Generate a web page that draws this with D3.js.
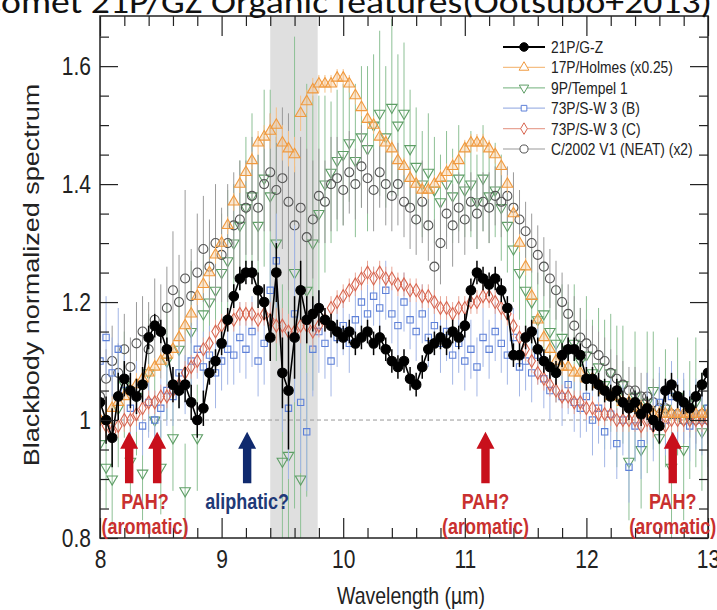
<!DOCTYPE html>
<html><head><meta charset="utf-8">
<script src="https://cdn.jsdelivr.net/npm/d3@7"></script>
<style>body{margin:0;background:#fff}svg{display:block}</style>
</head><body><svg id="c" width="717" height="610"></svg>
<script>
// ---------- DATA ----------
const titleText = "Comet 21P/GZ Organic features(Ootsubo+2013)";
const xLabel = "Wavelength (\u00b5m)";
const yLabel = "Blackbody normalized spectrum";
const xMajorTicks = [8, 9, 10, 11, 12, 13];
const yMajorTicks = [0.8, 1.0, 1.2, 1.4, 1.6];
const yTickLabels = ["0.8", "1", "1.2", "1.4", "1.6"];
const shadeBand = [9.4, 9.79];
const seriesNames = ["21P/G-Z", "17P/Holmes (x0.25)", "9P/Tempel 1", "73P/S-W 3 (B)", "73P/S-W 3 (C)", "C/2002 V1 (NEAT) (x2)"];

const wavelengths = [
 8.00,8.05,8.10,8.15,8.20,8.25,8.30,8.35,8.40,8.45,
 8.50,8.55,8.60,8.65,8.70,8.75,8.80,8.85,8.90,8.95,
 9.00,9.05,9.10,9.15,9.20,9.25,9.30,9.35,9.40,9.45,
 9.50,9.55,9.60,9.65,9.70,9.75,9.80,9.85,9.90,9.95,
 10.00,10.05,10.10,10.15,10.20,10.25,10.30,10.35,10.40,10.45,
 10.50,10.55,10.60,10.65,10.70,10.75,10.80,10.85,10.90,10.95,
 11.00,11.05,11.10,11.15,11.20,11.25,11.30,11.35,11.40,11.45,
 11.50,11.55,11.60,11.65,11.70,11.75,11.80,11.85,11.90,11.95,
 12.00,12.05,12.10,12.15,12.20,12.25,12.30,12.35,12.40,12.45,
 12.50,12.55,12.60,12.65,12.70,12.75,12.80,12.85,12.90,12.95,
 13.00];

const gz21P = [
 1.03,1.00,0.97,1.04,1.07,1.05,1.04,1.06,1.14,1.16,
 1.15,1.12,1.06,1.05,1.06,1.03,1.00,1.02,1.08,1.10,
 1.13,1.17,1.21,1.24,1.25,1.25,1.22,1.20,1.14,1.25,
 1.08,1.05,1.14,1.22,1.17,1.18,1.19,1.17,1.16,1.15,
 1.14,1.15,1.13,1.14,1.15,1.13,1.14,1.12,1.10,1.09,
 1.10,1.07,1.06,1.09,1.12,1.13,1.14,1.13,1.15,1.14,
 1.16,1.22,1.25,1.24,1.23,1.24,1.22,1.19,1.11,1.11,
 1.14,1.15,1.12,1.10,1.09,1.08,1.11,1.12,1.12,1.11,
 1.07,1.07,1.06,1.05,1.04,1.05,1.03,1.02,1.03,1.01,
 1.02,1.00,0.99,1.05,1.06,1.04,1.03,1.02,1.04,1.06,
 1.08];
const gz21PErr = [
 .04,.04,.05,.04,.03,.03,.03,.03,.02,.02,
 .02,.02,.03,.03,.03,.03,.03,.03,.02,.02,
 .02,.02,.02,.02,.02,.02,.03,.03,.04,.05,
 .06,.10,.07,.05,.04,.03,.03,.02,.02,.02,
 .02,.02,.02,.02,.02,.02,.02,.02,.02,.02,
 .02,.02,.02,.02,.02,.02,.02,.02,.02,.02,
 .02,.02,.02,.02,.02,.02,.02,.02,.02,.02,
 .02,.02,.02,.02,.02,.02,.02,.02,.02,.02,
 .02,.02,.02,.02,.02,.02,.02,.02,.02,.02,
 .02,.02,.03,.02,.02,.02,.02,.02,.02,.02,
 .02];

const holmes17P = [
 1.00,1.00,1.02,1.03,1.04,1.05,1.06,1.07,1.08,1.09,
 1.10,1.11,1.12,1.14,1.16,1.18,1.21,1.23,1.25,1.28,
 1.30,1.33,1.37,1.40,1.42,1.44,1.47,1.48,1.49,1.50,
 1.47,1.46,1.45,1.52,1.54,1.56,1.57,1.57,1.57,1.58,
 1.58,1.57,1.55,1.53,1.51,1.50,1.48,1.47,1.46,1.44,
 1.43,1.41,1.40,1.39,1.39,1.40,1.41,1.42,1.43,1.44,
 1.46,1.47,1.47,1.47,1.46,1.45,1.43,1.40,1.35,1.30,
 1.26,1.21,1.17,1.14,1.12,1.10,1.09,1.09,1.08,1.08,
 1.07,1.07,1.06,1.05,1.04,1.04,1.03,1.03,1.02,1.02,
 1.02,1.01,1.01,1.01,1.01,1.01,1.01,1.01,1.01,1.01,
 1.01];
const holmes17PErr = [
 .02,.02,.02,.02,.02,.02,.02,.02,.015,.015,
 .015,.015,.015,.015,.015,.015,.015,.015,.015,.015,
 .015,.015,.015,.015,.015,.015,.02,.02,.03,.03,
 .03,.03,.03,.03,.02,.02,.015,.015,.015,.015,
 .015,.015,.015,.015,.015,.015,.015,.015,.015,.015,
 .015,.015,.015,.015,.015,.015,.015,.015,.015,.015,
 .015,.015,.015,.015,.015,.015,.015,.015,.015,.015,
 .015,.015,.015,.015,.015,.015,.015,.015,.015,.015,
 .015,.015,.015,.015,.015,.015,.015,.015,.015,.015,
 .015,.015,.015,.015,.015,.015,.015,.015,.015,.015,
 .015];

const tempel9P = [
 0.96,0.92,0.90,1.02,1.06,0.93,1.04,0.91,1.08,1.00,
 0.92,1.10,0.97,1.12,0.88,1.15,0.97,1.18,1.20,1.22,
 1.25,1.27,1.30,1.33,1.36,1.38,1.33,1.41,1.38,1.30,
 0.93,0.94,1.25,0.90,1.22,1.30,1.35,1.40,1.42,1.44,
 1.45,1.47,1.44,1.48,1.46,1.50,1.52,1.48,1.53,1.50,
 1.52,1.46,1.43,1.40,1.42,1.39,1.37,1.40,1.38,1.41,
 1.39,1.40,1.37,1.41,1.38,1.39,1.36,1.33,1.29,1.25,
 1.22,1.20,1.17,1.18,1.15,1.13,1.14,1.12,1.13,1.10,
 1.11,1.08,1.09,1.06,1.08,1.04,1.06,0.93,1.04,0.95,
 1.03,1.05,0.97,1.02,0.92,1.04,0.95,1.00,1.03,0.98,
 1.02];
const tempel9PErr = [
 .08,.07,.08,.10,.09,.07,.10,.08,.10,.09,
 .08,.10,.09,.10,.08,.12,.09,.10,.10,.10,
 .10,.12,.10,.11,.12,.14,.12,.15,.18,.20,
 .30,.35,.40,.30,.35,.25,.20,.15,.12,.12,
 .12,.10,.13,.12,.14,.12,.14,.12,.15,.12,
 .12,.10,.10,.09,.10,.09,.08,.09,.08,.09,
 .08,.09,.08,.09,.08,.08,.09,.08,.09,.08,
 .08,.09,.08,.09,.08,.10,.09,.08,.10,.09,
 .10,.09,.10,.11,.10,.12,.10,.10,.11,.10,
 .12,.10,.11,.10,.12,.10,.12,.10,.11,.10,
 .10];

const sw73PB = [
 1.10,1.14,1.08,1.12,1.05,1.02,1.04,0.99,1.03,1.00,
 1.02,1.05,1.04,1.08,1.06,1.10,1.12,1.09,1.11,1.08,
 1.10,1.12,1.11,1.14,1.12,1.15,1.10,1.13,1.22,1.27,
 1.08,1.02,1.18,1.03,0.98,1.12,1.15,1.13,1.10,1.14,
 1.16,1.13,1.17,1.20,1.18,1.21,1.19,1.22,1.18,1.16,
 1.20,1.17,1.15,1.18,1.14,1.16,1.13,1.15,1.11,1.13,
 1.10,1.12,1.09,1.14,1.12,1.15,1.13,1.11,1.14,1.09,
 1.10,1.08,1.11,1.07,1.05,1.08,1.04,1.06,1.03,1.02,
 1.04,1.00,1.02,0.98,1.01,0.96,1.00,0.92,0.99,0.96,
 1.02,0.99,1.03,1.00,1.04,1.01,1.02,0.99,1.01,1.00,
 1.02];
const sw73PBErr = [
 .06,.07,.06,.07,.06,.05,.06,.05,.06,.05,
 .05,.06,.05,.06,.05,.06,.05,.06,.05,.06,
 .05,.06,.05,.06,.05,.06,.06,.07,.08,.08,
 .10,.12,.15,.12,.10,.08,.07,.06,.06,.05,
 .05,.05,.05,.05,.05,.05,.05,.05,.05,.05,
 .05,.05,.05,.05,.05,.05,.05,.05,.05,.05,
 .05,.05,.05,.05,.05,.05,.05,.05,.05,.05,
 .05,.05,.05,.05,.05,.05,.05,.05,.05,.05,
 .06,.06,.06,.06,.06,.06,.06,.06,.06,.06,
 .06,.06,.06,.06,.06,.06,.06,.06,.06,.06,
 .06];

const sw73PC = [
 1.00,0.99,0.98,0.99,1.00,1.00,1.01,1.02,1.03,1.03,
 1.04,1.04,1.05,1.06,1.08,1.09,1.10,1.12,1.13,1.15,
 1.16,1.17,1.17,1.18,1.18,1.18,1.17,1.18,1.17,1.16,
 1.16,1.15,1.15,1.16,1.16,1.15,1.16,1.17,1.19,1.20,
 1.21,1.22,1.23,1.24,1.25,1.24,1.25,1.24,1.24,1.23,
 1.23,1.22,1.22,1.21,1.21,1.20,1.19,1.19,1.18,1.19,
 1.19,1.20,1.20,1.21,1.21,1.20,1.19,1.18,1.16,1.14,
 1.12,1.10,1.08,1.07,1.06,1.05,1.04,1.04,1.03,1.03,
 1.02,1.02,1.01,1.01,1.01,1.00,1.00,1.00,1.00,0.99,
 1.00,0.99,1.00,0.99,1.00,1.00,1.00,1.00,1.00,1.00,
 1.00];
const sw73PCErr = [
 .02,.02,.02,.02,.02,.02,.02,.02,.02,.02,
 .02,.02,.02,.02,.02,.02,.02,.02,.02,.02,
 .02,.02,.02,.02,.02,.02,.02,.02,.03,.03,
 .03,.03,.03,.03,.03,.03,.02,.02,.02,.02,
 .02,.02,.02,.02,.02,.02,.02,.02,.02,.02,
 .02,.02,.02,.02,.02,.02,.02,.02,.02,.02,
 .02,.02,.02,.02,.02,.02,.02,.02,.02,.02,
 .02,.02,.02,.02,.02,.02,.02,.02,.02,.02,
 .02,.02,.02,.02,.02,.02,.02,.02,.02,.02,
 .02,.02,.02,.02,.02,.02,.02,.02,.02,.02,
 .02];

const neatC2002 = [
 1.04,1.07,1.10,1.08,1.12,1.09,1.13,1.15,1.12,1.17,
 1.15,1.19,1.22,1.20,1.24,1.21,1.25,1.29,1.26,1.30,
 1.28,1.30,1.33,1.34,1.36,1.38,1.36,1.40,1.42,1.39,
 1.41,1.37,1.33,1.36,1.31,1.34,1.38,1.37,1.40,1.41,
 1.39,1.42,1.40,1.43,1.41,1.39,1.42,1.40,1.38,1.40,
 1.37,1.36,1.34,1.37,1.33,1.26,1.30,1.35,1.33,1.36,
 1.34,1.37,1.35,1.37,1.36,1.38,1.37,1.38,1.36,1.34,
 1.32,1.30,1.28,1.26,1.24,1.22,1.20,1.18,1.16,1.14,
 1.13,1.12,1.11,1.10,1.08,1.07,1.06,1.05,1.05,1.04,
 1.04,1.03,1.02,1.02,1.01,1.01,1.00,1.01,1.00,1.01,
 1.00];
const neatC2002Err = [
 .05,.05,.06,.05,.06,.05,.07,.06,.08,.07,
 .08,.07,.10,.08,.15,.08,.10,.09,.08,.10,
 .08,.10,.09,.10,.08,.10,.09,.08,.10,.09,
 .12,.15,.10,.12,.15,.10,.08,.07,.08,.07,
 .06,.07,.06,.07,.06,.07,.06,.07,.06,.07,
 .06,.07,.06,.07,.06,.08,.07,.06,.07,.06,
 .06,.05,.06,.05,.06,.05,.06,.05,.06,.05,
 .05,.05,.05,.05,.05,.05,.05,.05,.05,.05,
 .04,.04,.04,.04,.04,.04,.04,.04,.04,.04,
 .04,.04,.04,.04,.04,.04,.04,.04,.04,.04,
 .04];

const arrowWavelengths = [8.24, 8.47, 9.21, 11.17, 12.71];
const arrowKinds = ["PAH", "PAH", "aliphatic", "PAH", "PAH"];
const arrowTipValue = 0.98, arrowBaseValue = 0.893;
const annotationTexts = [
  {w: 8.37, lines: ["PAH?", "(aromatic)"], kind: "PAH"},
  {w: 9.21, lines: ["aliphatic?"], kind: "aliphatic"},
  {w: 11.17, lines: ["PAH?", "(aromatic)"], kind: "PAH"},
  {w: 12.71, lines: ["PAH?", "(aromatic)"], kind: "PAH"}
];

// ---------- DRAW ----------
const svg = d3.select("#c");
const FONT = "'Liberation Sans', Arial, Helvetica, sans-serif";
const L = 100, R = 708, T = 16, B = 538;
const x = d3.scaleLinear().domain([8, 13]).range([L, R]);
const y = d3.scaleLinear().domain([0.8, 1.685]).range([B, T]);
const SY = 1.2; // vertical stretch of reference text

svg.append("rect").attr("width", 717).attr("height", 610).attr("fill", "#fff");

svg.append("defs").append("clipPath").attr("id", "plotclip")
  .append("rect").attr("x", L).attr("y", T).attr("width", R - L).attr("height", B - T);

// shaded band
svg.append("rect").attr("x", x(shadeBand[0])).attr("y", T)
  .attr("width", x(shadeBand[1]) - x(shadeBand[0])).attr("height", B - T)
  .attr("fill", "#dfdfdf");

// dashed line at 1
svg.append("line").attr("x1", L).attr("x2", R).attr("y1", y(1)).attr("y2", y(1))
  .attr("stroke", "#999").attr("stroke-width", 1).attr("stroke-dasharray", "4,3");

const plot = svg.append("g").attr("clip-path", "url(#plotclip)");

const triDown = {draw(ctx, size) { const s = Math.sqrt(size / (Math.sqrt(3)/4)); const h = s*Math.sqrt(3)/2;
  ctx.moveTo(-s/2, -h/3); ctx.lineTo(s/2, -h/3); ctx.lineTo(0, 2*h/3); ctx.closePath(); }};

const series = [
  {name: seriesNames[2], vals: tempel9P, err: tempel9PErr, sym: triDown, size: 48, stroke: "#5e9e66", errc: "#8dc095", fill: "none"},
  {name: seriesNames[5], vals: neatC2002, err: neatC2002Err, sym: d3.symbolCircle, size: 64, stroke: "#555", errc: "#9a9a9a", fill: "none"},
  {name: seriesNames[3], vals: sw73PB, err: sw73PBErr, sym: d3.symbolSquare, size: 40, stroke: "#5d80d8", errc: "#a3b6e6", fill: "none"},
  {name: seriesNames[4], vals: sw73PC, err: sw73PCErr, sym: d3.symbolDiamond, size: 48, stroke: "#d8654f", errc: "#e8a596", fill: "none"},
  {name: seriesNames[1], vals: holmes17P, err: holmes17PErr, sym: d3.symbolTriangle, size: 52, stroke: "#f0993e", errc: "#f5bf85", fill: "rgba(247,190,130,0.35)"},
  {name: seriesNames[0], vals: gz21P, err: gz21PErr, sym: d3.symbolCircle, size: 72, stroke: "#000", errc: "#000", fill: "#000"}
];

series.forEach(s => {
  const pts = wavelengths.map((w, i) => ({w, v: s.vals[i], e: s.err[i]})).filter(d => d.v != null);
  const g = plot.append("g");
  const isBlack = s.fill === "#000";
  g.selectAll("line").data(pts).join("line")
    .attr("x1", d => x(d.w)).attr("x2", d => x(d.w))
    .attr("y1", d => y(d.v - d.e)).attr("y2", d => y(d.v + d.e))
    .attr("stroke", s.errc).attr("stroke-width", isBlack ? 1.5 : 1);
  if (isBlack) {
    g.append("path").datum(pts)
      .attr("d", d3.line().x(d => x(d.w)).y(d => y(d.v)))
      .attr("fill", "none").attr("stroke", "#000").attr("stroke-width", 1.6);
  }
  g.selectAll("path.m").data(pts).join("path").attr("class", "m")
    .attr("transform", d => `translate(${x(d.w)},${y(d.v)})`)
    .attr("d", d3.symbol(s.sym, s.size))
    .attr("fill", s.fill).attr("stroke", s.stroke).attr("stroke-width", 1.1);
});

// axes
function styleAxis(g) { g.select(".domain").remove(); g.selectAll("line").attr("stroke", "#222").attr("stroke-width", 1.2); }
const xMinorVals = d3.range(0, 26).map(i => 8 + i * 0.2).filter(v => Math.abs(v - Math.round(v)) > 1e-6);
const yMinorVals = d3.range(0, 18).map(i => 0.8 + i * 0.05).filter(v => !yMajorTicks.some(t => Math.abs(t - v) < 1e-6));

svg.append("g").attr("transform", `translate(0,${B})`)
  .call(d3.axisBottom(x).tickValues(xMinorVals).tickSize(-10).tickFormat("")).call(styleAxis);
svg.append("g").attr("transform", `translate(0,${T})`)
  .call(d3.axisTop(x).tickValues(xMinorVals).tickSize(-10).tickFormat("")).call(styleAxis);
svg.append("g").attr("transform", `translate(0,${T})`)
  .call(d3.axisTop(x).tickValues(xMajorTicks).tickSize(-20).tickFormat("")).call(styleAxis);
const xb = svg.append("g").attr("transform", `translate(0,${B})`)
  .call(d3.axisBottom(x).tickValues(xMajorTicks).tickSize(-20).tickFormat(d3.format("d"))).call(styleAxis);
xb.selectAll("text").attr("y", 0).attr("dy", "0.35em")
  .attr("transform", `translate(0,21) scale(1,${SY})`)
  .attr("font-family", FONT).attr("font-size", 21).attr("fill", "#222");

svg.append("g").attr("transform", `translate(${L},0)`)
  .call(d3.axisLeft(y).tickValues(yMinorVals).tickSize(-9).tickFormat("")).call(styleAxis);
svg.append("g").attr("transform", `translate(${R},0)`)
  .call(d3.axisRight(y).tickValues(yMinorVals).tickSize(-9).tickFormat("")).call(styleAxis);
svg.append("g").attr("transform", `translate(${R},0)`)
  .call(d3.axisRight(y).tickValues(yMajorTicks).tickSize(-18).tickFormat("")).call(styleAxis);
const yl = svg.append("g").attr("transform", `translate(${L},0)`)
  .call(d3.axisLeft(y).tickValues(yMajorTicks).tickSize(-18).tickFormat((d, i) => yTickLabels[i])).call(styleAxis);
yl.selectAll("text").attr("x", 0).attr("dy", "0.35em")
  .attr("transform", `translate(-9,0) scale(1,${SY})`)
  .attr("font-family", FONT).attr("font-size", 21).attr("fill", "#222");

// frame
svg.append("rect").attr("x", L).attr("y", T).attr("width", R - L).attr("height", B - T)
  .attr("fill", "none").attr("stroke", "#222").attr("stroke-width", 1.5);

// title (cut at top, drawn over the frame)
svg.append("text").attr("x", -19).attr("y", 13)
  .attr("font-family", "Carlito, 'Open Sans', sans-serif").attr("font-size", 32)
  .attr("textLength", 731).attr("lengthAdjust", "spacingAndGlyphs")
  .attr("fill", "#111").text(titleText);

// axis titles
svg.append("text").attr("transform", `translate(411,604) scale(1,${SY})`)
  .attr("text-anchor", "middle").attr("font-family", FONT).attr("font-size", 19.5)
  .attr("fill", "#222").text(xLabel);
svg.append("text").attr("transform", `translate(39,275) scale(1,${SY}) rotate(-90)`)
  .attr("text-anchor", "middle").attr("font-family", FONT).attr("font-size", 22.5)
  .attr("fill", "#222").text(yLabel);

// annotation arrows
const colorOf = k => k === "PAH" ? "#c8101c" : "#102a6e";
const textColorOf = k => k === "PAH" ? "#c9302f" : "#1f3a78";
arrowWavelengths.forEach((w, i) => {
  const cx = x(w), yt = y(arrowTipValue), yb = y(arrowBaseValue);
  const hw = 9, sw = 4.2, hh = 17;
  const p = d3.path();
  p.moveTo(cx, yt); p.lineTo(cx + hw, yt + hh); p.lineTo(cx + sw, yt + hh); p.lineTo(cx + sw, yb);
  p.lineTo(cx - sw, yb); p.lineTo(cx - sw, yt + hh); p.lineTo(cx - hw, yt + hh); p.closePath();
  svg.append("path").attr("d", p.toString()).attr("fill", colorOf(arrowKinds[i]));
});
annotationTexts.forEach(a => {
  a.lines.forEach((t, j) => {
    svg.append("text").attr("transform", `translate(${x(a.w)},${509 + j * 25}) scale(1,1.25)`)
      .attr("text-anchor", "middle").attr("font-family", FONT).attr("font-weight", "bold")
      .attr("font-size", 18).attr("fill", textColorOf(a.kind)).text(t);
  });
});

// legend
const legendOrder = [5, 4, 0, 2, 3, 1]; // indices into series array (display order)
const lg = svg.append("g");
legendOrder.forEach((si, k) => {
  const s = series[si];
  const ly = 47 + k * 20.4;
  const isBlack = s.fill === "#000";
  lg.append("line").attr("x1", 503).attr("x2", 545).attr("y1", ly).attr("y2", ly)
    .attr("stroke", isBlack ? "#000" : s.errc).attr("stroke-width", isBlack ? 2 : 1.2);
  lg.append("path").attr("transform", `translate(524,${ly})`)
    .attr("d", d3.symbol(s.sym, s.size * 0.8)).attr("fill", isBlack ? "#000" : "#fff")
    .attr("stroke", s.stroke).attr("stroke-width", 1);
  lg.append("text").attr("transform", `translate(551,${ly}) scale(1,${SY})`).attr("dy", "0.36em")
    .attr("font-family", FONT).attr("font-size", 13.8).attr("fill", "#222").text(s.name);
});
</script></body></html>
